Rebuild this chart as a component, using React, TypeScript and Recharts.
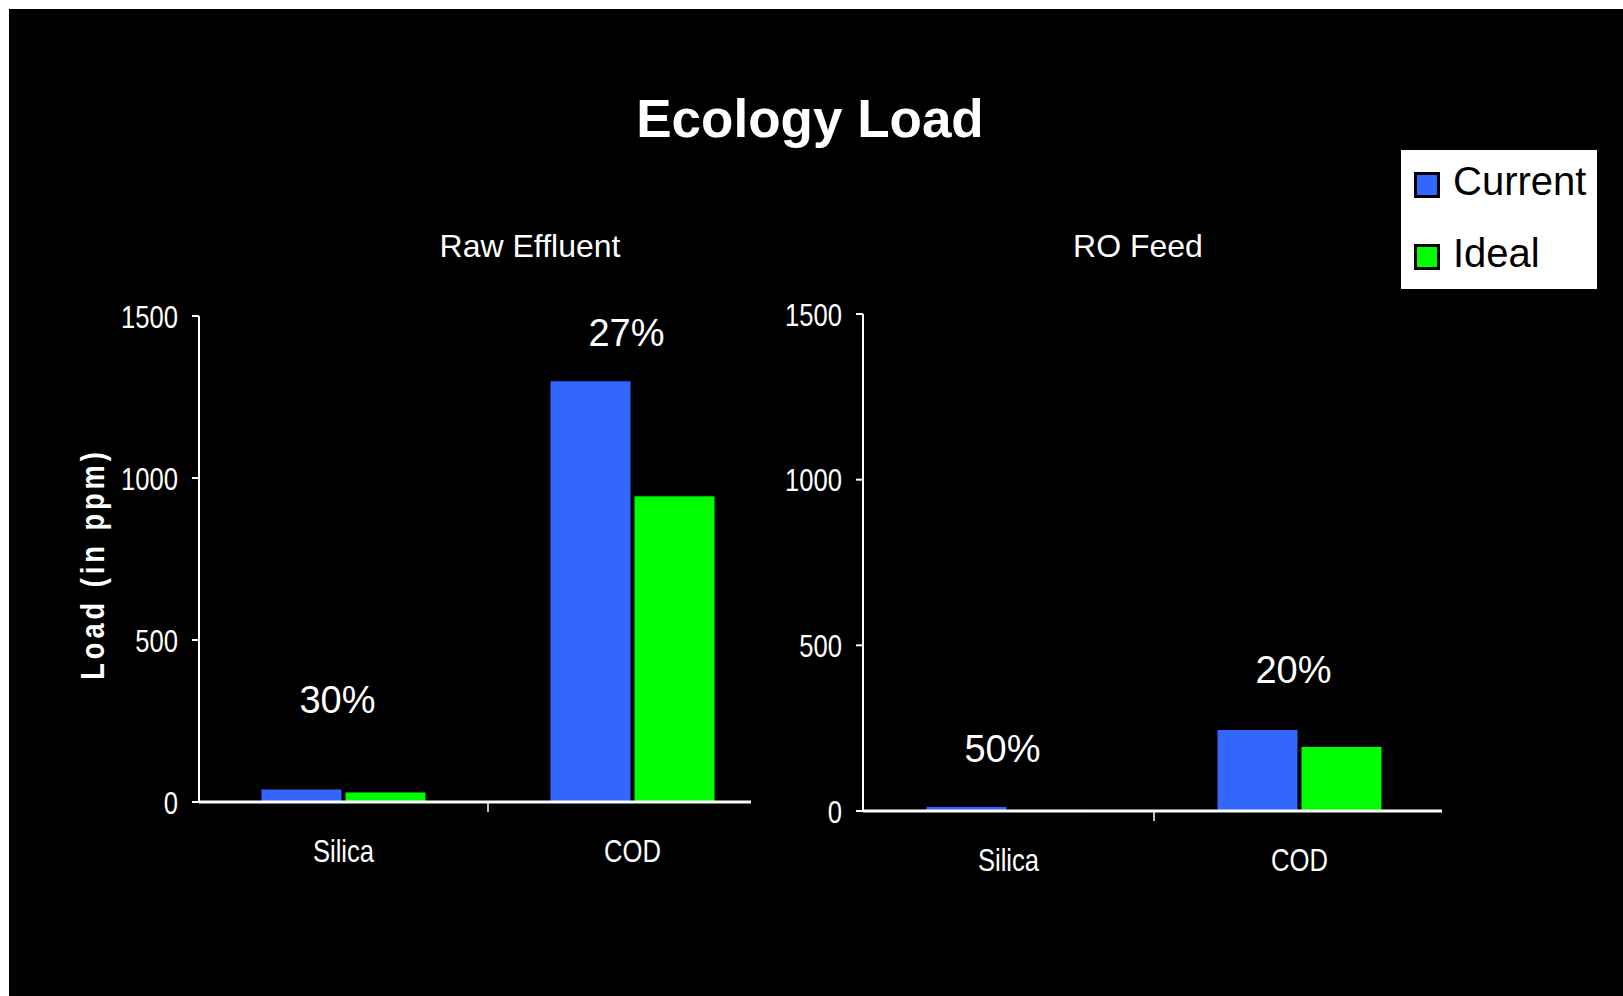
import { Bar, BarChart, Legend, ReferenceDot, XAxis, YAxis } from "recharts";

const FONT = '"Liberation Sans", Arial, sans-serif';
const BLUE = "#3366ff";
const GREEN = "#00ff00";

const categories = ["Silica", "COD"];
const rawCurrent = [40, 1300];
const rawIdeal = [31, 945];
const roCurrent = [14, 246];
const roIdeal = [5, 195];
const rawReduction = ["30%", "27%"];
const roReduction = ["50%", "20%"];
// height (in ppm units) where each reduction note sits
const rawNoteAt = [316, 1450];
const roNoteAt = [190, 428];
const yTicks = [0, 500, 1000, 1500];

const rawData = categories.map((name, i) => ({ name, current: rawCurrent[i], ideal: rawIdeal[i] }));
const roData = categories.map((name, i) => ({ name, current: roCurrent[i], ideal: roIdeal[i] }));

function YTick(props: any) {
  const { x, y, payload } = props;
  return (
    <g transform={`translate(${x},${y})`}>
      <line x1={-7} x2={0} y1={0} y2={0} stroke="#fff" strokeWidth={2} />
      <text
        transform="scale(0.8,1)"
        x={-21 / 0.8}
        y={0}
        dy="0.36em"
        textAnchor="end"
        fill="#fff"
        fontSize={32}
        fontFamily={FONT}
      >
        {payload.value}
      </text>
    </g>
  );
}

function makeXTick(band: number) {
  return (props: any) => {
    const { x, y, payload, index } = props;
    return (
      <g transform={`translate(${x},${y})`}>
        {index === 0 && (
          <line x1={band / 2} x2={band / 2} y1={0} y2={10} stroke="#fff" strokeWidth={1.5} />
        )}
        <text
          transform="scale(0.8,1)"
          x={0}
          y={48}
          dy="0.36em"
          textAnchor="middle"
          fill="#fff"
          fontSize={32}
          fontFamily={FONT}
        >
          {payload.value}
        </text>
      </g>
    );
  };
}

function LegendBox({ payload }: any) {
  const items = payload ?? [];
  return (
    <svg width={196} height={139} style={{ display: "block" }}>
      <rect x={0} y={0} width={196} height={139} fill="#fff" />
      {items.map((it: any, i: number) => (
        <g key={it.value} transform={`translate(0,${i * 72})`}>
          <rect x={14.5} y={23.5} width={23} height={23} fill={it.color} stroke="#000" strokeWidth={3} />
          <text x={52} y={45} fontSize={40} fontFamily={FONT} fill="#000">
            {it.value}
          </text>
        </g>
      ))}
    </svg>
  );
}

function note(label: string) {
  return { value: label, position: "center" as const, fill: "#fff", fontSize: 38, fontFamily: FONT, dx: -6 };
}

export default function App() {
  return (
    <div style={{ position: "fixed", left: 9, top: 9, right: 0, bottom: 0, background: "#000", overflow: "hidden" }}>
      <svg width={1614} height={987} style={{ position: "absolute", left: 0, top: 0 }}>
        <text x={801} y={128} textAnchor="middle" fill="#fff" fontSize={53} fontWeight="bold" fontFamily={FONT}>
          Ecology Load
        </text>
        <text x={521} y={248} textAnchor="middle" fill="#fff" fontSize={32} fontFamily={FONT}>
          Raw Effluent
        </text>
        <text x={1129} y={248} textAnchor="middle" fill="#fff" fontSize={32} fontFamily={FONT}>
          RO Feed
        </text>
        <text
          transform="translate(83,555) rotate(-90) scale(0.8,1)"
          textAnchor="middle"
          dy="0.36em"
          fill="#fff"
          fontSize={34}
          fontWeight="bold"
          letterSpacing={5}
          fontFamily={FONT}
        >
          Load (in ppm)
        </text>
      </svg>

      <div style={{ position: "absolute", left: 0, top: 0 }}>
        <BarChart
          width={800}
          height={880}
          data={rawData}
          margin={{ top: 307, right: 32, bottom: 27, left: 0 }}
          barCategoryGap={62}
          barGap={3}
        >
          <XAxis
            dataKey="name"
            height={60}
            tickSize={0}
            tickMargin={0}
            tickLine={false}
            axisLine={{ stroke: "#fff", strokeWidth: 3, strokeDasharray: "552 2000" }}
            tick={makeXTick(289)}
          />
          <YAxis
            width={190}
            domain={[0, 1500]}
            ticks={yTicks}
            tickSize={0}
            tickMargin={0}
            tickLine={false}
            axisLine={{ stroke: "#fff", strokeWidth: 2 }}
            tick={YTick}
          />
          <Bar dataKey="current" name="Current" fill={BLUE} stroke="#000" strokeWidth={1} isAnimationActive={false} />
          <Bar dataKey="ideal" name="Ideal" fill={GREEN} stroke="#000" strokeWidth={1} isAnimationActive={false} />
          {categories.map((c, i) => (
            <ReferenceDot key={c} x={c} y={rawNoteAt[i]} r={0.01} fill="none" stroke="none" label={note(rawReduction[i])} />
          ))}
        </BarChart>
      </div>

      <div style={{ position: "absolute", left: 700, top: 0 }}>
        <BarChart
          width={756}
          height={880}
          data={roData}
          margin={{ top: 305, right: 20, bottom: 18, left: 0 }}
          barCategoryGap={63}
          barGap={3}
        >
          <XAxis
            dataKey="name"
            height={60}
            tickSize={0}
            tickMargin={0}
            tickLine={false}
            axisLine={{ stroke: "#fff", strokeWidth: 3, strokeDasharray: "579 2000" }}
            tick={makeXTick(291)}
          />
          <YAxis
            width={154}
            domain={[0, 1500]}
            ticks={yTicks}
            tickSize={0}
            tickMargin={0}
            tickLine={false}
            axisLine={{ stroke: "#fff", strokeWidth: 2 }}
            tick={YTick}
          />
          <Legend
            layout="vertical"
            align="center"
            verticalAlign="middle"
            content={LegendBox}
            wrapperStyle={{ left: 692, top: 141, width: 196, height: 139 }}
          />
          <Bar dataKey="current" name="Current" fill={BLUE} stroke="#000" strokeWidth={1} isAnimationActive={false} />
          <Bar dataKey="ideal" name="Ideal" fill={GREEN} stroke="#000" strokeWidth={1} isAnimationActive={false} />
          {categories.map((c, i) => (
            <ReferenceDot key={c} x={c} y={roNoteAt[i]} r={0.01} fill="none" stroke="none" label={note(roReduction[i])} />
          ))}
        </BarChart>
      </div>
    </div>
  );
}
